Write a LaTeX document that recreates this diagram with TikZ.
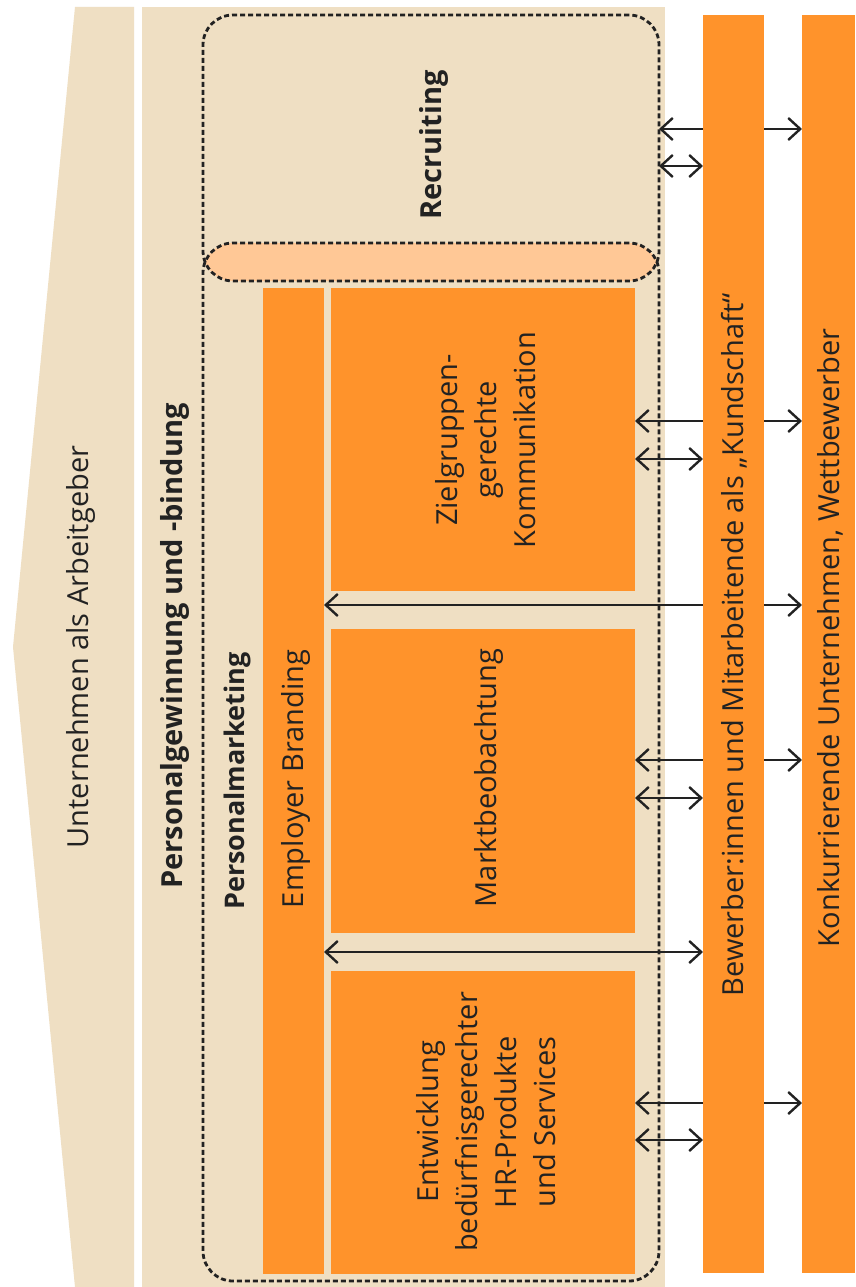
\documentclass[tikz,border=0pt]{standalone}
\usepackage{fontspec}
\setmainfont{Open Sans}
\usetikzlibrary{arrows.meta}

\definecolor{band}{RGB}{239,223,195}
\definecolor{boxorange}{RGB}{255,147,43}
\definecolor{capsule}{RGB}{255,200,150}
\definecolor{ink}{RGB}{34,34,34}

\pgfdeclarelayer{bg}
\pgfdeclarelayer{links}
\pgfsetlayers{bg,links,main}

\tikzset{
  bandfill/.style={fill=band, draw=none},
  obox/.style={fill=boxorange, draw=none, inner sep=0pt, outer sep=0pt},
  dashedframe/.style={draw=ink, line width=2.8pt, dash pattern=on 5pt off 3pt,
    rounded corners=30pt, inner sep=0pt, outer sep=0pt},
  link/.style={draw=ink, line width=2.4pt,
    {Straight Barb[length=12pt,width=22pt]}-{Straight Barb[length=12pt,width=22pt]}},
  lbl/.style={rotate=90, text=ink, inner sep=0pt,
    font=\fontsize{29}{39}\selectfont},
  blbl/.style={lbl, font=\fontsize{29}{39}\selectfont\bfseries},
}

\begin{document}
\begin{tikzpicture}[x=1pt,y=-1pt]
\useasboundingbox (0,0) rectangle (855,1287);

\begin{pgfonlayer}{bg}
  \fill[white] (0,0) rectangle (855,1287);
  % left arrow band and the wide band behind the frames
  \fill[bandfill] (75,7) -- (134,7) -- (134,1287) -- (75,1287) -- (13,647) -- cycle;
  \fill[bandfill] (142,7) rectangle (665,1287);
  % overlap of the Recruiting and Personalmarketing frames
  \begin{scope}
    \clip[rounded corners=30pt] (203,15) rectangle (659,281);
    \fill[capsule, rounded corners=30pt] (203,243) rectangle (659,1281);
  \end{scope}
  % orange blocks inside Personalmarketing
  \node[obox, minimum width=61pt,  minimum height=986pt] (brand) at (293.5,781) {};
  \node[obox, minimum width=304pt, minimum height=303pt] (komm)  at (483,439.5) {};
  \node[obox, minimum width=304pt, minimum height=304pt] (markt) at (483,781) {};
  \node[obox, minimum width=304pt, minimum height=303pt] (entw)  at (483,1122.5) {};
\end{pgfonlayer}

% outer bars on the right
\node[obox, minimum width=61pt, minimum height=1258pt] (bew)  at (733.5,644) {};
\node[obox, minimum width=53pt, minimum height=1258pt] (konk) at (828.5,644) {};

% dashed frames
\node[dashedframe, minimum width=456pt, minimum height=266pt]  (recruit) at (431,148) {};
\node[dashedframe, minimum width=456pt, minimum height=1038pt] (pm)      at (431,762) {};

% labels
\node[lbl, anchor=base]  (tUnt)  at (88,647)  {Unternehmen als Arbeitgeber};
\node[blbl, anchor=base] (tPgb)  at (182,646) {Personalgewinnung und -bindung};
\node[blbl, anchor=base, font=\fontsize{27}{36}\selectfont\bfseries] (tPm) at (244,781) {Personalmarketing};
\node[lbl, anchor=base]  (tEb)   at (303,779) {Employer Branding};
\node[blbl, anchor=base] (tRec)  at (441,145) {Recruiting};
\node[lbl, align=center] (tKomm) at (486,440) {Zielgruppen-\\gerechte\\Kommunikation};
\node[lbl, anchor=base]  (tMarkt) at (496,778) {Marktbeobachtung};
\node[lbl, align=center] (tEntw) at (486,1122) {Entwicklung\\bedürfnisgerechter\\HR-Produkte\\und Services};
\node[lbl, anchor=base]  (tBew)  at (743,645) {Bewerber:innen und Mitarbeitende als „Kundschaft“};
\node[lbl, anchor=base]  (tKonk) at (839,638) {Konkurrierende Unternehmen, Wettbewerber};

% connectors, kept beneath the bars
\begin{pgfonlayer}{links}
  \draw[link] (recruit.east |- 0,129) -- (konk.west |- 0,129);
  \draw[link] (recruit.east |- 0,166) -- (bew.west |- 0,166);
  \draw[link] (komm.east |- 0,421)  -- (konk.west |- 0,421);
  \draw[link] (komm.east |- 0,459)  -- (bew.west |- 0,459);
  \draw[link] (brand.east |- 0,605) -- (konk.west |- 0,605);
  \draw[link] (markt.east |- 0,760) -- (konk.west |- 0,760);
  \draw[link] (markt.east |- 0,798) -- (bew.west |- 0,798);
  \draw[link] (brand.east |- 0,952) -- (bew.west |- 0,952);
  \draw[link] (entw.east |- 0,1103) -- (konk.west |- 0,1103);
  \draw[link] (entw.east |- 0,1140) -- (bew.west |- 0,1140);
\end{pgfonlayer}
\end{tikzpicture}
\end{document}
